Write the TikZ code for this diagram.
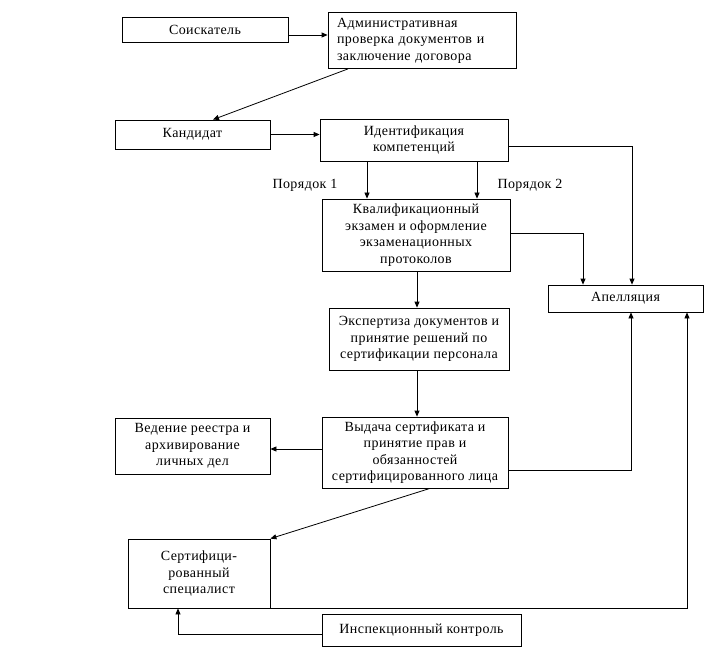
\documentclass[tikz,border=0pt]{standalone}
\usepackage{fontspec}
\setmainfont{Liberation Serif}[LetterSpace=3]
\usetikzlibrary{arrows.meta}
\begin{document}
\begin{tikzpicture}[x=1pt,y=-1pt,
  box/.style={draw=black,line width=0.8pt,inner sep=2pt,align=center,
    font=\fontsize{14}{16.5}\selectfont},
  lbl/.style={font=\fontsize{14}{16.5}\selectfont,inner sep=0pt},
  arr/.style={line width=0.8pt,-{Triangle[length=6pt,width=5pt]}},
  ln/.style={line width=0.8pt}]
\useasboundingbox[fill=white] (0,0) rectangle (704,647);
\node[box,minimum width=166pt,minimum height=25pt] (sois) at (205,29.5) {Соискатель};
\node[box,minimum width=188pt,minimum height=56pt,align=left,text width=170pt,inner xsep=8pt] (adm) at (422,40.5)
  {Административная\\проверка документов и\\заключение договора};
\node[box,minimum width=155pt,minimum height=29pt] (kand) at (192.5,134.5) {Кандидат};
\node[box,minimum width=188pt,minimum height=42pt] (ident) at (414,140) {Идентификация\\компетенций};
\node[box,minimum width=188pt,minimum height=72pt] (kval) at (416,235)
  {Квалификационный\\экзамен и оформление\\экзаменационных\\протоколов};
\node[box,minimum width=155pt,minimum height=27pt] (apel) at (625.5,298.5) {Апелляция};
\node[box,minimum width=180pt,minimum height=62pt] (eksp) at (419,339)
  {Экспертиза документов и\\принятие решений по\\сертификации персонала};
\node[box,minimum width=186pt,minimum height=71pt] (vyd) at (415,452.5)
  {Выдача сертификата и\\принятие прав и\\обязанностей\\сертифицированного лица};
\node[box,minimum width=155pt,minimum height=56pt] (ved) at (192.5,446)
  {Ведение реестра и\\архивирование\\личных дел};
\node[box,minimum width=142pt,minimum height=69pt] (sert) at (199,573.5)
  {Сертифици-\\рованный\\специалист};
\node[box,minimum width=199pt,minimum height=32pt] (insp) at (421.5,630) {Инспекционный контроль};
\node[lbl] (p1) at (305,185) {Порядок 1};
\node[lbl] (p2) at (530,185) {Порядок 2};
% connectors
\draw[arr] (sois.east |- 0,35) -- (adm.west |- 0,35);
\draw[arr] (348,0 |- adm.south) -- (213,0 |- kand.north);
\draw[arr] (kand.east) -- (ident.west |- kand.east);
\draw[arr] (367,0 |- ident.south) -- (367,0 |- kval.north);
\draw[arr] (477,0 |- ident.south) -- (477,0 |- kval.north);
\draw[arr] (ident.east |- 0,146) -| (632,0 |- apel.north);
\draw[arr] (kval.east |- 0,233) -| (583,0 |- apel.north);
\draw[arr] (417,0 |- kval.south) -- (417,0 |- eksp.north);
\draw[arr] (417,0 |- eksp.south) -- (417,0 |- vyd.north);
\draw[arr] (vyd.west |- 0,449) -- (ved.east |- 0,449);
\draw[arr] (vyd.east |- 0,470) -| (631,0 |- apel.south);
\draw[arr] (430,0 |- vyd.south) -- (sert.north east);
\draw[arr] (sert.south east) -| (687,0 |- apel.south);
\draw[arr] (insp.west |- 0,634) -| (178,0 |- sert.south);
\end{tikzpicture}
\end{document}
